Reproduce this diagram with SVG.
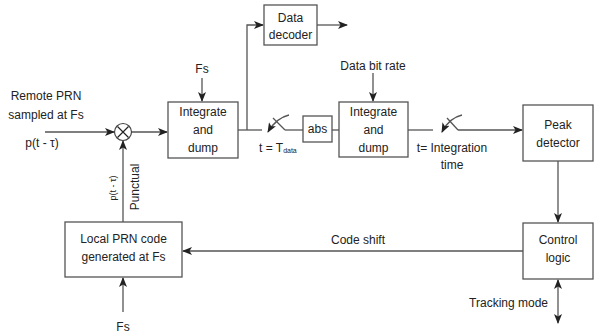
<svg xmlns="http://www.w3.org/2000/svg" width="597" height="335" viewBox="0 0 597 335">
<defs>
<marker id="ah" markerWidth="10" markerHeight="8" refX="9" refY="4" orient="auto" markerUnits="userSpaceOnUse">
<path d="M0,0 L10,4 L0,8 L2.5,4 Z" fill="#222"/>
</marker>
<marker id="ahs" markerWidth="10" markerHeight="8" refX="9" refY="4" orient="auto-start-reverse" markerUnits="userSpaceOnUse">
<path d="M0,0 L10,4 L0,8 L2.5,4 Z" fill="#222"/>
</marker>
</defs>
<style>
text{font-family:"Liberation Sans",Arial,sans-serif;font-size:12px;fill:#222;text-anchor:middle}
.box{fill:#fff;stroke:#555;stroke-width:1.3}
.ln{fill:none;stroke:#555;stroke-width:1.3}
.sm{font-size:7px}
</style>
<rect width="597" height="335" fill="#fff"/>
<g id="connectors">
<line class="ln" x1="45" y1="132" x2="114" y2="132" marker-end="url(#ah)"/>
<line class="ln" x1="132" y1="132" x2="167" y2="132" marker-end="url(#ah)"/>
<line class="ln" x1="202" y1="78" x2="202" y2="101" marker-end="url(#ah)"/>
<polyline class="ln" points="238,130 262,130"/>
<polyline class="ln" points="247,130 247,25 263,25" marker-end="url(#ah)"/>
<line class="ln" x1="317" y1="25" x2="347" y2="25" marker-end="url(#ah)"/>
<line class="ln" x1="285" y1="130" x2="303" y2="130"/>
<line class="ln" x1="285" y1="130" x2="273" y2="118"/>
<path class="ln" d="M289,115 Q276,118 268,132" marker-end="url(#ah)"/>
<line class="ln" x1="332" y1="130" x2="339" y2="130"/>
<line class="ln" x1="373" y1="73" x2="373" y2="101" marker-end="url(#ah)"/>
<line class="ln" x1="408" y1="130" x2="433" y2="130"/>
<line class="ln" x1="458" y1="130" x2="447" y2="118"/>
<path class="ln" d="M462,115 Q449,118 442,132" marker-end="url(#ah)"/>
<line class="ln" x1="458" y1="130" x2="522" y2="130" marker-end="url(#ah)"/>
<line class="ln" x1="558" y1="161" x2="558" y2="222" marker-end="url(#ah)"/>
<line class="ln" x1="523" y1="251" x2="183" y2="251" marker-end="url(#ah)"/>
<line class="ln" x1="558" y1="280" x2="558" y2="323" marker-start="url(#ahs)" marker-end="url(#ah)"/>
<line class="ln" x1="123" y1="312" x2="123" y2="278" marker-end="url(#ah)"/>
<line class="ln" x1="123" y1="222" x2="123" y2="141" marker-end="url(#ah)"/>
</g>
<g id="inputs">
<text x="46" y="100">Remote PRN</text>
<text x="46" y="119">sampled at Fs</text>
<text x="42" y="147">p(t - τ)</text>
<text x="202" y="73">Fs</text>
<text x="373" y="70">Data bit rate</text>
<text x="259" y="152" style="text-anchor:start">t = T<tspan class="sm" dy="1">data</tspan></text>
<text x="452" y="152">t= Integration</text>
<text x="452" y="169">time</text>
<text x="358" y="244">Code shift</text>
<text x="548" y="307" style="text-anchor:end">Tracking mode</text>
<text x="123" y="331">Fs</text>
<text transform="translate(139,187) rotate(-90)">Punctual</text>
<text transform="translate(116,188) rotate(-90)" style="font-size:9px">p(t - τ)</text>
</g>
<g id="multiplier">
<circle cx="123" cy="132" r="8.5" fill="#fff" stroke="#444" stroke-width="1.2"/>
<path d="M117.5,126.5 L128.5,137.5 M128.5,126.5 L117.5,137.5" stroke="#222" stroke-width="1.2"/>
</g>
<g id="integrate1">
<rect class="box" x="168" y="102" width="70" height="56"/>
<text x="203" y="116">Integrate</text>
<text x="203" y="134">and</text>
<text x="203" y="152">dump</text>
</g>
<g id="decoder">
<rect class="box" x="264" y="5" width="53" height="40"/>
<text x="290.5" y="22">Data</text>
<text x="290.5" y="39">decoder</text>
</g>
<g id="abs">
<rect class="box" x="303" y="116" width="29" height="26"/>
<text x="317.5" y="133">abs</text>
</g>
<g id="integrate2">
<rect class="box" x="339" y="102" width="69" height="55"/>
<text x="373.5" y="116">Integrate</text>
<text x="373.5" y="134">and</text>
<text x="373.5" y="152">dump</text>
</g>
<g id="peak">
<rect class="box" x="523" y="105" width="70" height="56"/>
<text x="558" y="129">Peak</text>
<text x="558" y="147">detector</text>
</g>
<g id="control">
<rect class="box" x="523" y="223" width="70" height="56"/>
<text x="558" y="244">Control</text>
<text x="558" y="262">logic</text>
</g>
<g id="localprn">
<rect class="box" x="65" y="222" width="117" height="55"/>
<text x="123.5" y="243">Local PRN code</text>
<text x="123.5" y="261">generated at Fs</text>
</g>
</svg>
